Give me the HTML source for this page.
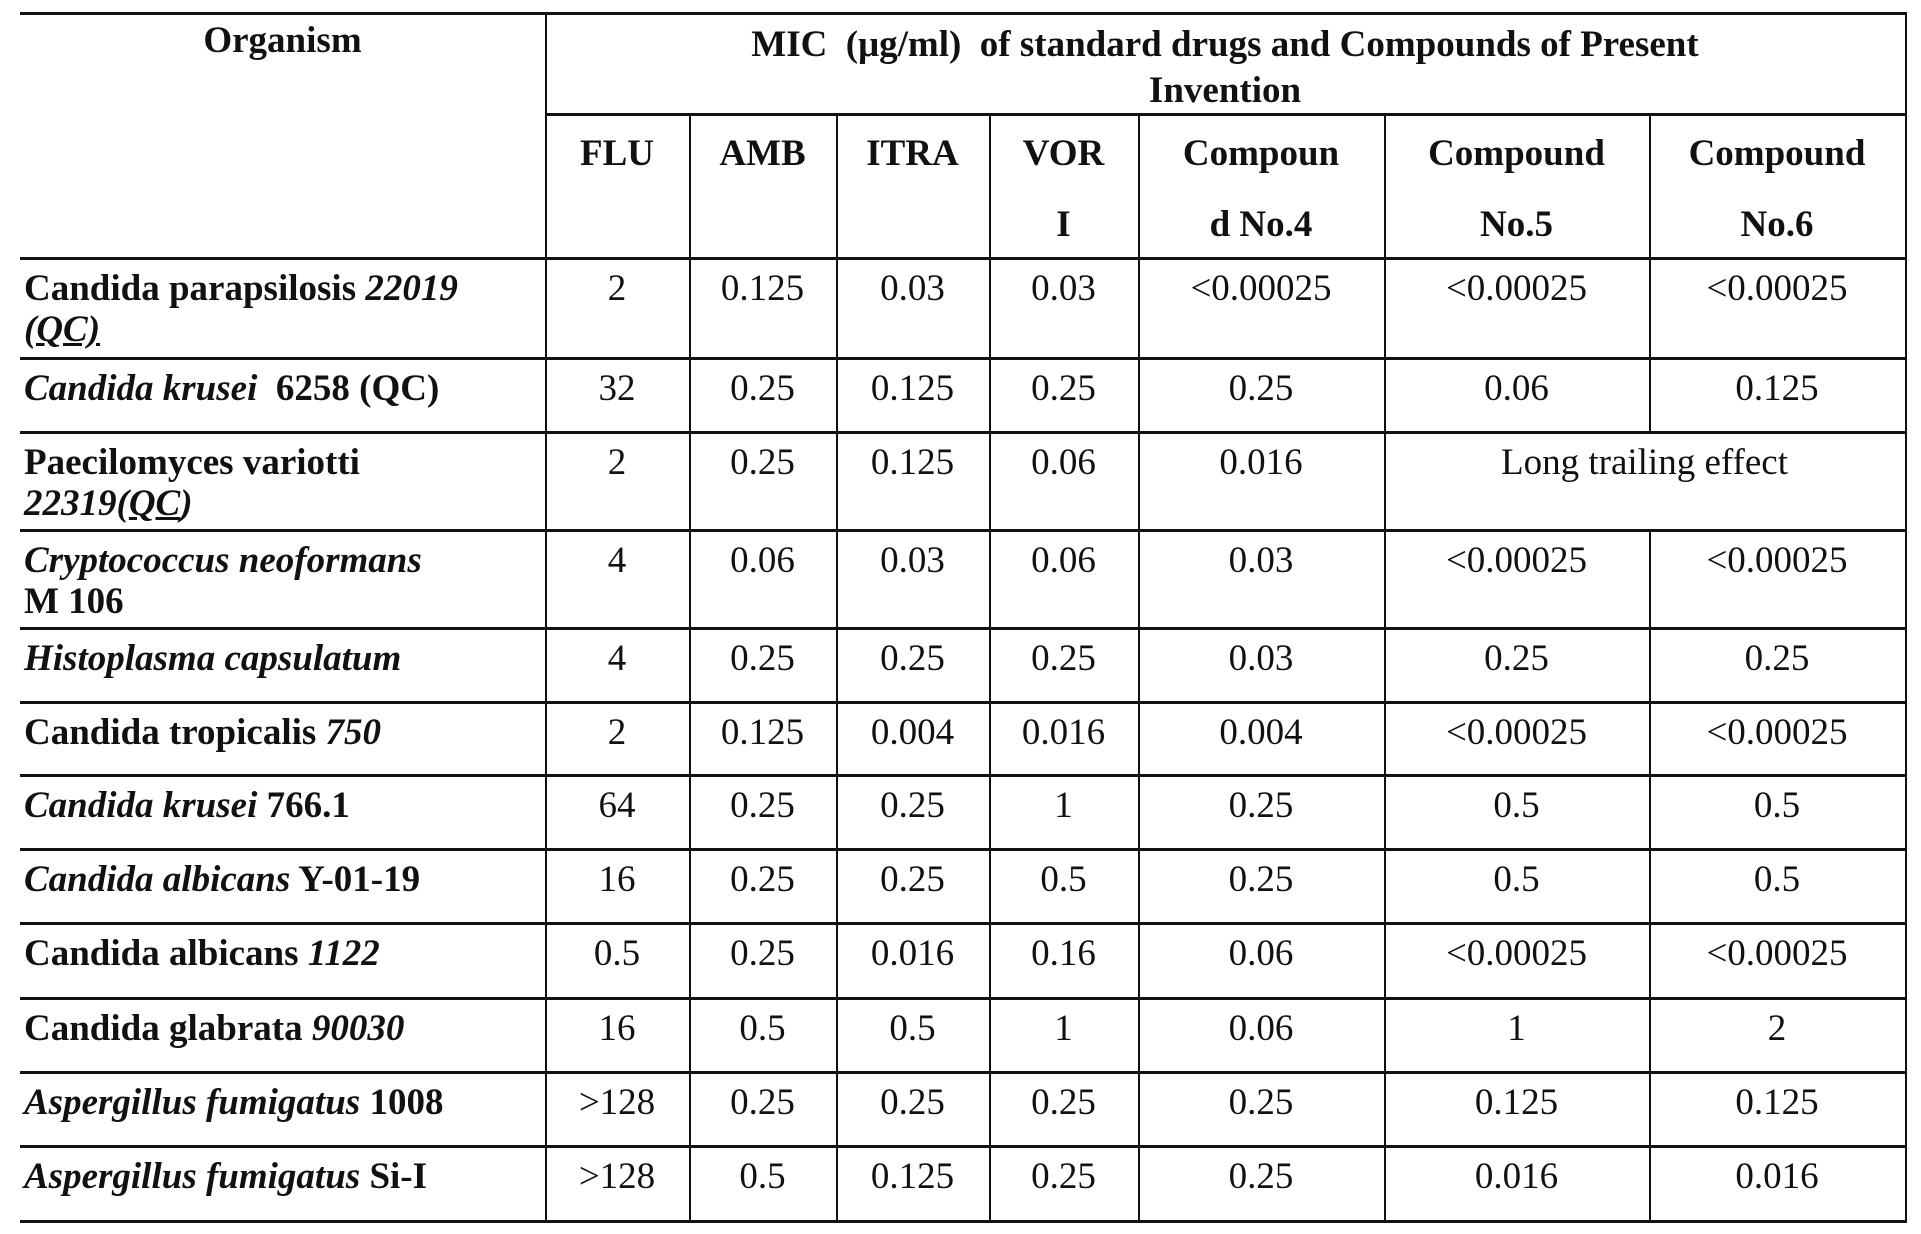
<!DOCTYPE html>
<html><head><meta charset="utf-8"><style>
body{margin:0;background:#fff;}
#t{position:relative;width:1921px;height:1234px;overflow:hidden;background:#fff;font-family:"Liberation Serif",serif;color:#111;}
.h{position:absolute;height:3px;background:#111;}
.v{position:absolute;width:2px;background:#111;}
.c{position:absolute;font-size:37px;line-height:41px;text-align:center;white-space:nowrap;}
.b{font-weight:bold;}
.l{text-align:left;}
</style></head><body>
<div id="t"></div>
<script>
const colX=[20,545,689,836,989,1138,1384,1649,1905];
const rowY=[258,358,432,530,628,702,775,849,923,998,1072,1146,1221];
const headers=["FLU","AMB","ITRA","VOR<br>I","Compoun<br>d No.4","Compound<br>No.5","Compound<br>No.6"];
const organisms=["<b>Candida parapsilosis <i>22019<br><u>(QC)</u></i></b>","<b><i>Candida krusei</i>&nbsp; 6258 (QC)</b>","<b>Paecilomyces variotti<br><i>22319(<u>QC</u>)</i></b>","<b><i>Cryptococcus neoformans</i><br>M 106</b>","<b><i>Histoplasma capsulatum</i></b>","<b>Candida tropicalis <i>750</i></b>","<b><i>Candida krusei</i> 766.1</b>","<b><i>Candida albicans</i> Y-01-19</b>","<b>Candida albicans <i>1122</i></b>","<b>Candida glabrata <i>90030</i></b>","<b><i>Aspergillus fumigatus</i> 1008</b>","<b><i>Aspergillus fumigatus</i> Si-I</b>"];
const values=[
["2","0.125","0.03","0.03","&lt;0.00025","&lt;0.00025","&lt;0.00025"],
["32","0.25","0.125","0.25","0.25","0.06","0.125"],
["2","0.25","0.125","0.06","0.016","Long trailing effect",null],
["4","0.06","0.03","0.06","0.03","&lt;0.00025","&lt;0.00025"],
["4","0.25","0.25","0.25","0.03","0.25","0.25"],
["2","0.125","0.004","0.016","0.004","&lt;0.00025","&lt;0.00025"],
["64","0.25","0.25","1","0.25","0.5","0.5"],
["16","0.25","0.25","0.5","0.25","0.5","0.5"],
["0.5","0.25","0.016","0.16","0.06","&lt;0.00025","&lt;0.00025"],
["16","0.5","0.5","1","0.06","1","2"],
["&gt;128","0.25","0.25","0.25","0.25","0.125","0.125"],
["&gt;128","0.5","0.125","0.25","0.25","0.016","0.016"]];
const T=document.getElementById('t');
function add(cls,st,html){const d=document.createElement('div');d.className=cls;Object.assign(d.style,st);if(html!==undefined)d.innerHTML=html;T.appendChild(d);return d;}
let e=add('h',{left:colX[0]+'px',top:'12px',width:(colX[8]-colX[0]+2)+'px'});


e=add('h',{left:colX[1]+'px',top:'113px',width:(colX[8]-colX[1]+2)+'px'});


rowY.forEach((y,i)=>{const l=add('h',{left:colX[0]+'px',top:(y-1)+'px',width:(colX[8]-colX[0]+2)+'px'});

});
colX.slice(1).forEach((x,i)=>{const ci=i+1;
 if(ci===1||ci===8){const l=add('v',{left:x+'px',top:'12px',height:(rowY[12]-12)+'px'});
 
 return;}
 if(ci===7){const a=add('v',{left:x+'px',top:'113px',height:(rowY[2]-113)+'px'});
 
 
 const b=add('v',{left:x+'px',top:rowY[3]+'px',height:(rowY[12]-rowY[3])+'px'});
 
 return;}
 const l=add('v',{left:x+'px',top:'113px',height:(rowY[12]-113)+'px'});
 
 });
e=add('c b',{left:colX[0]+'px',width:(colX[1]-colX[0])+'px',top:'20px'},'Organism');


e=add('c b',{left:colX[1]+'px',width:(colX[8]-colX[1])+'px',top:'22px',lineHeight:'46px'},'MIC&nbsp; (μg/ml)&nbsp; of standard drugs and Compounds of Present<br>Invention');


headers.forEach((h,i)=>{const d=add('c b',{left:colX[i+1]+'px',width:(colX[i+2]-colX[i+1])+'px',top:'118px',lineHeight:'71px'},h);

});
organisms.forEach((o,r)=>{const top=rowY[r]+10;
 const d=add('c l',{left:(colX[0]+4)+'px',top:top+'px'},o);
 
 
 values[r].forEach((v,ci)=>{if(v===null)return;
  let w=colX[ci+2]-colX[ci+1];
  if(ci===5&&values[r][6]===null)w=colX[8]-colX[6];
  const c=add('c',{left:colX[ci+1]+'px',width:w+'px',top:top+'px'},v);
  
  });});
</script>
</body></html>
